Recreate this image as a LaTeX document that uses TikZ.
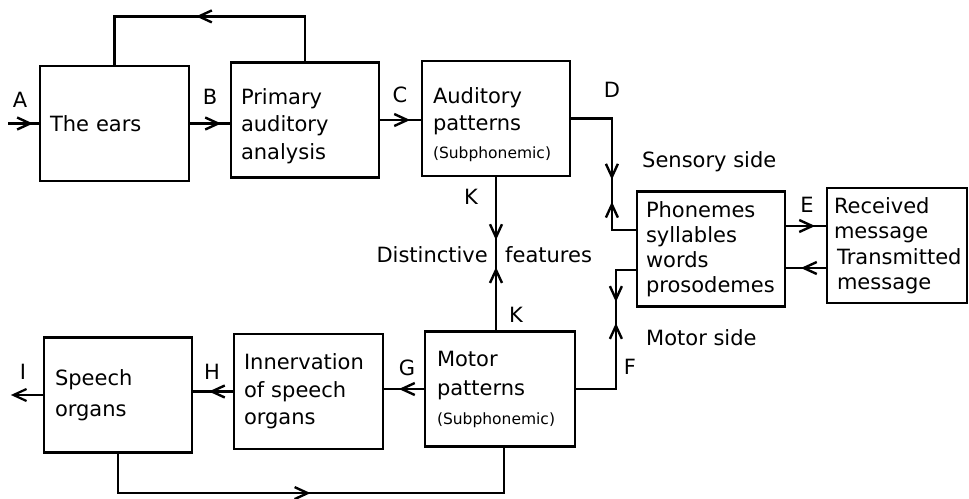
\documentclass[tikz,border=0pt]{standalone}
\usepackage{fontspec}
\setmainfont{DejaVu Sans}
\usetikzlibrary{arrows.meta,decorations.markings}
\tikzset{
  myarr/.tip={Straight Barb[length=13pt,width=12pt]},
  box/.style={draw, line width=2.2pt, minimum height=115pt, inner xsep=10pt, inner ysep=0pt, align=left},
  ln/.style={line width=2.2pt},
  lbl/.style={font=\fontsize{21}{26}\selectfont, inner sep=0pt},
  fw/.style={postaction={decorate, decoration={markings, mark=at position #1 with {\arrow[line width=2.4pt]{myarr}}}}},
  bw/.style={postaction={decorate, decoration={markings, mark=at position #1 with {\arrowreversed[line width=2.4pt]{myarr}}}}},
}
\newcommand{\subph}{{\fontsize{15.5}{16}\selectfont(Subphonemic)}}
\begin{document}
\begin{tikzpicture}[x=1pt,y=-1pt]
\useasboundingbox (0,0) rectangle (969,498);
% boxes
\node[box, text width=129pt, font=\fontsize{21}{30}\selectfont] (ears) at (114.5,123.5) {The ears};
\node[box, text width=128pt, font=\fontsize{21}{27.5}\selectfont] (prim) at (305,120) {\rule{0pt}{28pt}Primary\\auditory\\analysis};
\node[box, text width=126pt, inner xsep=11pt, font=\fontsize{21}{27.5}\selectfont] (aud) at (496,118.5) {\rule{0pt}{28pt}Auditory\\patterns\\\subph};
\node[box, text width=130pt, inner xsep=9pt, font=\fontsize{21}{25}\selectfont] (phon) at (711,249) {Phonemes\\syllables\\words\\prosodemes};
\node[box, text width=126pt, inner xsep=7pt, font=\fontsize{21}{25.5}\selectfont] (recv) at (897,245.5) {Received\\message\\\mbox{\hspace*{3pt}Transmitted}\\\hspace*{3pt}message};
\node[box, text width=126pt, inner xsep=11pt, font=\fontsize{21}{31}\selectfont] (speech) at (118,395) {Speech\\organs};
\node[box, text width=129pt, font=\fontsize{21}{27.5}\selectfont] (inn) at (308.5,391.5) {Innervation\\of speech\\organs};
\node[box, text width=126pt, inner xsep=12pt, font=\fontsize{21}{29}\selectfont] (mot) at (500,389) {Motor\\patterns\\\subph};
% labels
\node[lbl] (la) at (20,100) {A};
\node[lbl] (lb) at (210,97) {B};
\node[lbl] (lc) at (400,95) {C};
\node[lbl] (ld) at (612,90) {D};
\node[lbl] (lk1) at (471,197) {K};
\node[lbl] (lk2) at (516,315) {K};
\node[lbl] (le) at (807,205) {E};
\node[lbl] (lf) at (630,367) {F};
\node[lbl] (lg) at (407,368) {G};
\node[lbl] (lh) at (212,372) {H};
\node[lbl] (li) at (23,372) {I};
\node[lbl, anchor=west] (sens) at (642,162) {Sensory side};
\node[lbl, anchor=west] (msid) at (646,338) {Motor side};
\node[lbl, anchor=east] (dist) at (488,255) {Distinctive};
\node[lbl, anchor=west] (feat) at (505,255) {features};
% connectors
\coordinate (a0) at (8,123.5);
\draw[ln, fw=25pt] (a0) -- (ears.west);
\draw[ln, fw=31pt] (ears.east) -- (ears.east -| prim.west);
\draw[ln, fw=30pt] (prim.east) -- (prim.east -| aud.west);
\draw[ln, fw=154pt] (prim.north) -- ++(0,-45) -| (ears.north);
\draw[ln, fw=102pt, bw=124pt] (aud.east) -| ([xshift=-24pt,yshift=19pt]phon.west) -- ([yshift=19pt]phon.west);
\draw[ln, fw=52pt, bw=73pt] ([yshift=-21pt]phon.west) -- ++(-20,0) |- (mot.east);
\draw[ln, fw=63pt, bw=90pt] (aud.south) -- (aud.south |- mot.north);
\draw[ln, fw=29pt] ([yshift=23pt]phon.east) -- ([yshift=23pt]phon.east -| recv.west);
\draw[ln, fw=25pt] ([yshift=-22.5pt]recv.west) -- ([yshift=-22.5pt]recv.west -| phon.east);
\draw[ln, fw=25pt] (mot.west) -- (mot.west -| inn.east);
\draw[ln, fw=24pt] (inn.west) -- (inn.west -| speech.east);
\draw[ln, -{myarr}] (speech.west) -- ++(-32,0) coordinate (iend);
\draw[ln, fw=232pt] (speech.south) -- ++(0,39.5) -| ([xshift=4pt]mot.south);
\end{tikzpicture}
\end{document}
